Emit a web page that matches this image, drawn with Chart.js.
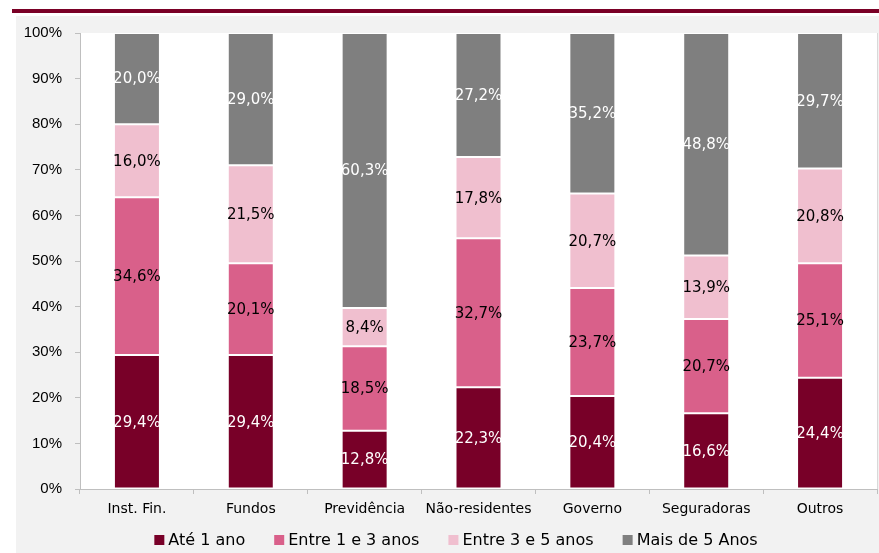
<!DOCTYPE html>
<html>
<head>
<meta charset="utf-8">
<script src="https://cdn.jsdelivr.net/npm/chart.js@4.4.1/dist/chart.umd.min.js"></script>
<style>
    html, body { margin: 0; padding: 0; background: #ffffff; }
    #wrap { width: 879px; height: 553px; }
</style>
</head>
<body>
<div id="wrap"><canvas id="prazoChart" width="879" height="553"></canvas></div>
<script>
// Holders of public debt, share of each maturity bucket (%)
const categories = ['Inst. Fin.', 'Fundos', 'Previdência', 'Não-residentes', 'Governo', 'Seguradoras', 'Outros'];
const seriesNames = ['Até 1 ano', 'Entre 1 e 3 anos', 'Entre 3 e 5 anos', 'Mais de 5 Anos'];
const ate1 = [29.4, 29.4, 12.8, 22.3, 20.4, 16.6, 24.4];
const entre1e3 = [34.6, 20.1, 18.5, 32.7, 23.7, 20.7, 25.1];
const entre3e5 = [16.0, 21.5, 8.4, 17.8, 20.7, 13.9, 20.8];
const mais5 = [20.0, 29.0, 60.3, 27.2, 35.2, 48.8, 29.7];
const yTicks = [0, 10, 20, 30, 40, 50, 60, 70, 80, 90, 100];

const COLORS = ['#780028', '#d9608a', '#f0bfcf', '#7f7f7f'];
const LABEL_COLORS = ['#ffffff', '#000000', '#000000', '#ffffff'];

const fmtPct = v => v.toFixed(1).replace('.', ',') + '%';

// page frame: gray panel, white plot area, maroon rule on top
const framePlugin = {
    id: 'frame',
    beforeDraw(chart) {
        const { ctx, chartArea: a, width, height } = chart;
        ctx.save();
        ctx.fillStyle = '#ffffff';
        ctx.fillRect(0, 0, width, height);
        ctx.fillStyle = '#f2f2f2';
        ctx.fillRect(16, 16, width - 16, height - 16);
        ctx.fillStyle = '#7a0026';
        ctx.fillRect(12, 9, width - 12, 4);
        ctx.fillStyle = '#ffffff';
        ctx.fillRect(a.left, a.top, a.right - a.left, a.bottom - a.top);
        ctx.strokeStyle = '#d9d9d9';
        ctx.lineWidth = 1;
        ctx.beginPath();
        ctx.moveTo(a.right + 0.5, a.top);
        ctx.lineTo(a.right + 0.5, a.bottom);
        ctx.stroke();
        ctx.restore();
    }
};

// value labels centred in each segment
const segmentLabels = {
    id: 'segmentLabels',
    afterDatasetsDraw(chart) {
        const { ctx } = chart;
        ctx.save();
        ctx.font = '15px "DejaVu Sans"';
        ctx.textAlign = 'center';
        ctx.textBaseline = 'middle';
        chart.data.datasets.forEach((ds, i) => {
            const meta = chart.getDatasetMeta(i);
            ctx.fillStyle = LABEL_COLORS[i];
            meta.data.forEach((bar, j) => {
                const y = (bar.y + bar.base) / 2;
                ctx.fillText(fmtPct(ds.data[j]), bar.x, y + 1);
            });
        });
        ctx.restore();
    }
};

// legend row under the axis
const bottomLegend = {
    id: 'bottomLegend',
    afterDraw(chart) {
        const { ctx } = chart;
        const box = 10, gapText = 4, gapItem = 29, centerX = 456, y = 540;
        ctx.save();
        ctx.font = '16px "DejaVu Sans"';
        ctx.textBaseline = 'middle';
        const widths = seriesNames.map(n => box + gapText + ctx.measureText(n).width);
        const total = widths.reduce((s, w) => s + w, 0) + gapItem * (widths.length - 1);
        let x = centerX - total / 2;
        seriesNames.forEach((name, i) => {
            ctx.fillStyle = COLORS[i];
            ctx.fillRect(x, y - box / 2, box, box);
            ctx.fillStyle = '#000000';
            ctx.fillText(name, x + box + gapText, y + 1);
            x += widths[i] + gapItem;
        });
        ctx.restore();
    }
};

const seriesData = [ate1, entre1e3, entre3e5, mais5];

new Chart(document.getElementById('prazoChart'), {
    type: 'bar',
    data: {
        labels: categories,
        datasets: seriesData.map((values, i) => ({
            label: seriesNames[i],
            data: values,
            backgroundColor: COLORS[i],
            borderColor: 'rgba(255, 255, 255, 0.4)',
            borderWidth: 1,
            borderSkipped: false,
            categoryPercentage: 1,
            barPercentage: 0.404
        }))
    },
    options: {
        responsive: false,
        animation: false,
        devicePixelRatio: 1,
        layout: {
            padding: { top: 33, right: 2, bottom: 0, left: 0 }
        },
        plugins: {
            legend: { display: false },
            tooltip: { enabled: false }
        },
        scales: {
            x: {
                stacked: true,
                grid: {
                    offset: true,
                    drawOnChartArea: false,
                    tickLength: 5,
                    color: '#bfbfbf'
                },
                border: { color: '#bfbfbf' },
                ticks: {
                    color: '#000000',
                    padding: 7,
                    font: { family: 'DejaVu Sans', size: 14 }
                },
                afterFit(scale) { scale.height = 64; }
            },
            y: {
                stacked: true,
                min: 0,
                max: 100,
                grid: {
                    drawOnChartArea: false,
                    tickLength: 5,
                    color: '#bfbfbf'
                },
                border: { color: '#bfbfbf' },
                afterBuildTicks(scale) {
                    scale.ticks = yTicks.map(v => ({ value: v }));
                },
                ticks: {
                    color: '#000000',
                    padding: 13,
                    font: { family: 'Liberation Sans', size: 15 },
                    callback: v => v + '%'
                },
                afterFit(scale) { scale.width = 80; }
            }
        }
    },
    plugins: [framePlugin, segmentLabels, bottomLegend]
});
</script>
</body>
</html>
